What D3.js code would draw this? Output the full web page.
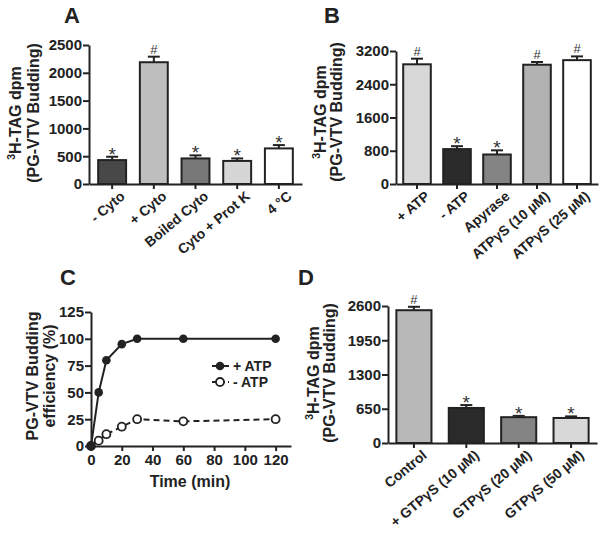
<!DOCTYPE html>
<html><head><meta charset="utf-8">
<script src="https://cdn.jsdelivr.net/npm/d3@7"></script>
<style>
body{margin:0;background:#fff;}
svg{font-family:"Liberation Sans",Arial,sans-serif;}
</style></head><body>
<svg id="c" width="602" height="538"></svg>
<script>
// ---- Panel A data ----
const catsA = ["- Cyto", "+ Cyto", "Boiled Cyto", "Cyto + Prot K", "4 \u00B0C"];
const valsA = [430, 2190, 460, 415, 640];
const errsA = [60, 100, 55, 45, 60];
const sigA = ["*", "#", "*", "*", "*"];
const colsA = ["#484848", "#bebebe", "#787878", "#d6d6d6", "#ffffff"];
const ticksA = [0, 500, 1000, 1500, 2000, 2500];

// ---- Panel B data ----
const catsB = ["+ ATP", "- ATP", "Apyrase", "ATP\u03B3S (10 \u00B5M)", "ATP\u03B3S (25 \u00B5M)"];
const valsB = [2880, 840, 710, 2870, 2980];
const errsB = [135, 70, 100, 65, 90];
const sigB = ["#", "*", "*", "#", "#"];
const colsB = ["#d8d8d8", "#2b2b2b", "#848484", "#b2b2b2", "#ffffff"];
const ticksB = [0, 800, 1600, 2400, 3200];

// ---- Panel C data ----
const timeC = [0, 5, 10, 20, 30, 60, 120];
const plusATP = [0, 50, 80, 95, 100, 100, 100];
const minusATP = [0, 5, 11, 18, 25, 23, 25];
const xticksC = [0, 20, 40, 60, 80, 100, 120];
const yticksC = [0, 25, 50, 75, 100, 125];

// ---- Panel D data ----
const catsD = ["Control", "+ GTP\u03B3S (10 \u00B5M)", "GTP\u03B3S (20 \u00B5M)", "GTP\u03B3S (50 \u00B5M)"];
const valsD = [2520, 665, 490, 475];
const errsD = [65, 55, 25, 30];
const sigD = ["#", "*", "*", "*"];
const colsD = ["#b8b8b8", "#2a2a2a", "#848484", "#d8d8d8"];
const ticksD = [0, 650, 1300, 1950, 2600];

const svg = d3.select("#c");
const INK = "#222";
const fmt = d3.format("d");

function styleAxis(g) {
  g.selectAll("path.domain").attr("stroke", INK).attr("stroke-width", 2);
  g.selectAll(".tick line").attr("stroke", INK).attr("stroke-width", 2);
  g.selectAll(".tick text").attr("fill", INK).attr("font-size", 15).attr("font-weight", "bold")
    .attr("font-family", "'Liberation Sans',Arial,sans-serif");
}

function yTitle(cx, cy, lines, size) {
  const t = svg.append("g").attr("transform", `translate(${cx},${cy}) rotate(-90)`);
  lines.forEach(l => {
    const tx = t.append("text").attr("x", 0).attr("y", l.dy).attr("text-anchor", "middle")
      .attr("font-size", size).attr("font-weight", "bold").attr("fill", INK);
    if (l.sup) {
      tx.append("tspan").attr("font-size", size * 0.65).attr("dy", -size * 0.38).text(l.sup);
      tx.append("tspan").attr("dy", size * 0.38).text(l.text);
    } else tx.text(l.text);
  });
}

function panelLabel(x, y, s) {
  svg.append("text").attr("x", x).attr("y", y).attr("font-size", 22).attr("font-weight", "bold")
    .attr("fill", INK).attr("text-anchor", "middle").text(s);
}

function barPanel(o) {
  const x = d3.scaleBand().domain(o.cats).range(o.xr).paddingInner(o.pi).paddingOuter(o.po);
  const y = d3.scaleLinear().domain([0, o.ticks[o.ticks.length - 1]]).range(o.yr);
  const g = svg.append("g");
  g.selectAll("rect.bar").data(o.cats).join("rect")
    .attr("x", d => x(d)).attr("width", x.bandwidth())
    .attr("y", (d, i) => y(o.vals[i])).attr("height", (d, i) => y(0) - y(o.vals[i]))
    .attr("fill", (d, i) => o.cols[i]).attr("stroke", INK).attr("stroke-width", 2);
  o.cats.forEach((d, i) => {
    const cx = x(d) + x.bandwidth() / 2;
    const top = y(o.vals[i] + o.errs[i]);
    g.append("line").attr("x1", cx).attr("x2", cx).attr("y1", y(o.vals[i])).attr("y2", top)
      .attr("stroke", INK).attr("stroke-width", 2);
    g.append("line").attr("x1", cx - 6).attr("x2", cx + 6).attr("y1", top).attr("y2", top)
      .attr("stroke", INK).attr("stroke-width", 2);
    const star = o.sig[i] === "*";
    g.append("text").attr("x", cx).attr("y", star ? top + 4 : top - 3)
      .attr("text-anchor", "middle").attr("font-size", star ? 19 : 13)
      .attr("fill", "#333").text(o.sig[i]);
  });
  const ax = svg.append("g").attr("transform", `translate(${o.xr[0]},0)`)
    .call(d3.axisLeft(y).tickValues(o.ticks).tickFormat(fmt).tickSize(6).tickSizeOuter(0).tickPadding(1));
  styleAxis(ax);
  const bx = svg.append("g").attr("transform", `translate(0,${o.yr[0]})`)
    .call(d3.axisBottom(x).tickSize(5).tickSizeOuter(0));
  styleAxis(bx);
  bx.selectAll(".tick text").attr("text-anchor", "end").attr("font-size", 14)
    .attr("transform", "translate(4,2) rotate(-40)").attr("dy", "0.8em").attr("y", 4).attr("x", 0);
}

// Panel A
barPanel({cats: catsA, vals: valsA, errs: errsA, sig: sigA, cols: colsA, ticks: ticksA,
  xr: [89, 302], yr: [184, 45], pi: 0.33, po: 0.22});
yTitle(0, 113, [{sup: "3", text: "H-TAG dpm", dy: 21}, {text: "(PG-VTV Budding)", dy: 39}], 16);
panelLabel(72, 23, "A");

// Panel B
barPanel({cats: catsB, vals: valsB, errs: errsB, sig: sigB, cols: colsB, ticks: ticksB,
  xr: [396, 598], yr: [184, 51], pi: 0.31, po: 0.18});
yTitle(0, 112, [{sup: "3", text: "H-TAG dpm", dy: 326}, {text: "(PG-VTV Budding)", dy: 342}], 16);
panelLabel(332, 23, "B");

// Panel D
barPanel({cats: catsD, vals: valsD, errs: errsD, sig: sigD, cols: colsD, ticks: ticksD,
  xr: [388, 597], yr: [443, 306], pi: 0.33, po: 0.16});
yTitle(0, 373, [{sup: "3", text: "H-TAG dpm", dy: 319}, {text: "(PG-VTV Budding)", dy: 335}], 16);
panelLabel(306, 285, "D");

// Panel C
(function () {
  const x = d3.scaleLinear().domain([0, 130]).range([91, 291]);
  const y = d3.scaleLinear().domain([0, 125]).range([446, 312]);
  const ax = svg.append("g").attr("transform", "translate(91,0)")
    .call(d3.axisLeft(y).tickValues(yticksC).tickFormat(fmt).tickSize(6).tickSizeOuter(0).tickPadding(1));
  styleAxis(ax);
  const bx = svg.append("g").attr("transform", "translate(0,446)")
    .call(d3.axisBottom(x).tickValues(xticksC).tickFormat(fmt).tickSize(5).tickSizeOuter(0).tickPadding(3));
  styleAxis(bx);
  const line = d3.line().x((d, i) => x(timeC[i])).y(d => y(d));
  svg.append("path").datum(minusATP).attr("d", line).attr("fill", "none")
    .attr("stroke", INK).attr("stroke-width", 2).attr("stroke-dasharray", "6,4");
  svg.append("path").datum(plusATP).attr("d", line).attr("fill", "none")
    .attr("stroke", INK).attr("stroke-width", 2);
  svg.selectAll("circle.m").data(minusATP).join("circle")
    .attr("cx", (d, i) => x(timeC[i])).attr("cy", d => y(d)).attr("r", 4)
    .attr("fill", "#fff").attr("stroke", INK).attr("stroke-width", 1.8);
  svg.selectAll("circle.p").data(plusATP).join("circle")
    .attr("cx", (d, i) => x(timeC[i])).attr("cy", d => y(d)).attr("r", 4.3)
    .attr("fill", INK);
  const lg = svg.append("g");
  lg.append("line").attr("x1", 212).attr("x2", 229).attr("y1", 366).attr("y2", 366)
    .attr("stroke", INK).attr("stroke-width", 2);
  lg.append("circle").attr("cx", 220).attr("cy", 366).attr("r", 4.3).attr("fill", INK);
  lg.append("text").attr("x", 233).attr("y", 371).attr("font-size", 14).attr("font-weight", "bold")
    .attr("fill", INK).text("+ ATP");
  lg.append("line").attr("x1", 212).attr("x2", 229).attr("y1", 382).attr("y2", 382)
    .attr("stroke", INK).attr("stroke-width", 2).attr("stroke-dasharray", "5,3");
  lg.append("circle").attr("cx", 220).attr("cy", 382).attr("r", 4).attr("fill", "#fff")
    .attr("stroke", INK).attr("stroke-width", 1.8);
  lg.append("text").attr("x", 233).attr("y", 387).attr("font-size", 14).attr("font-weight", "bold")
    .attr("fill", INK).text("- ATP");
  svg.append("text").attr("x", 190).attr("y", 487).attr("text-anchor", "middle")
    .attr("font-size", 16).attr("font-weight", "bold").attr("fill", INK).text("Time (min)");
  yTitle(0, 376, [{text: "PG-VTV Budding", dy: 38}, {text: "efficiency (%)", dy: 55}], 16);
  panelLabel(68, 285, "C");
})();
</script>
</body></html>
